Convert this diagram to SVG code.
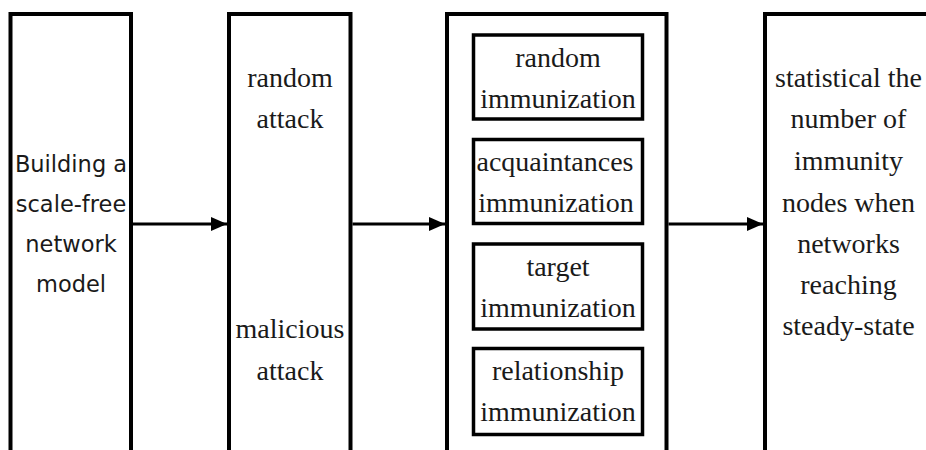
<svg xmlns="http://www.w3.org/2000/svg" width="926" height="450" viewBox="0 0 926 450">
<defs>
<style>
.box{fill:#fff;stroke:#000;stroke-width:4}
.inner{fill:#fff;stroke:#000;stroke-width:3.5}
.conn{stroke:#000;stroke-width:3;fill:none}
.sans{font-family:'DejaVu Sans','Open Sans',sans-serif;font-size:22.5px;fill:#1a1a1a;text-anchor:middle}
.serif{font-family:'Liberation Serif','DejaVu Serif','Times New Roman',serif;font-size:28px;fill:#1a1a1a;text-anchor:middle}
</style>
<marker id="arrow" markerUnits="userSpaceOnUse" markerWidth="17" markerHeight="16" refX="16" refY="8" orient="auto">
<path d="M0,1 L16,8 L0,15 z" fill="#000"/>
</marker>
</defs>
<rect width="926" height="450" fill="#fff"/>
<g id="n1">
<rect class="box" x="10.5" y="14" width="120.5" height="460"/>
<text class="sans" x="71" y="172">Building a</text>
<text class="sans" x="71" y="212">scale-free</text>
<text class="sans" x="71" y="252">network</text>
<text class="sans" x="71" y="292">model</text>
</g>
<g id="n2" font-family="Liberation Serif, serif">
<rect class="box" x="229" y="14" width="121.5" height="460"/>
<text class="serif" x="290" y="87">random</text>
<text class="serif" x="290" y="128">attack</text>
<text class="serif" x="290" y="338">malicious</text>
<text class="serif" x="290" y="380">attack</text>
</g>
<g id="n3">
<rect class="box" x="447" y="14" width="219.5" height="460"/>
<g id="n3a">
<rect class="inner" x="473.5" y="35" width="169" height="84"/>
<text class="serif" x="558" y="67">random</text>
<text class="serif" x="558" y="108">immunization</text>
</g>
<g id="n3b">
<rect class="inner" x="473.5" y="139.5" width="169" height="84"/>
<text class="serif" x="555" y="171">acquaintances</text>
<text class="serif" x="556" y="212">immunization</text>
</g>
<g id="n3c">
<rect class="inner" x="473.5" y="244" width="169" height="85"/>
<text class="serif" x="558" y="276">target</text>
<text class="serif" x="558" y="317">immunization</text>
</g>
<g id="n3d">
<rect class="inner" x="473.5" y="348.5" width="169" height="86"/>
<text class="serif" x="558" y="380">relationship</text>
<text class="serif" x="558" y="421">immunization</text>
</g>
</g>
<g id="n4">
<rect class="box" x="765" y="14" width="200" height="460"/>
<text class="serif" x="848.5" y="87">statistical the</text>
<text class="serif" x="848.5" y="128">number of</text>
<text class="serif" x="848.5" y="170">immunity</text>
<text class="serif" x="848.5" y="212">nodes when</text>
<text class="serif" x="848.5" y="253">networks</text>
<text class="serif" x="848.5" y="294">reaching</text>
<text class="serif" x="848.5" y="335">steady-state</text>
</g>
<g id="connectors">
<line class="conn" x1="133" y1="224" x2="227" y2="224" marker-end="url(#arrow)"/>
<line class="conn" x1="352.5" y1="224" x2="445" y2="224" marker-end="url(#arrow)"/>
<line class="conn" x1="668.5" y1="224" x2="763" y2="224" marker-end="url(#arrow)"/>
</g>
</svg>
